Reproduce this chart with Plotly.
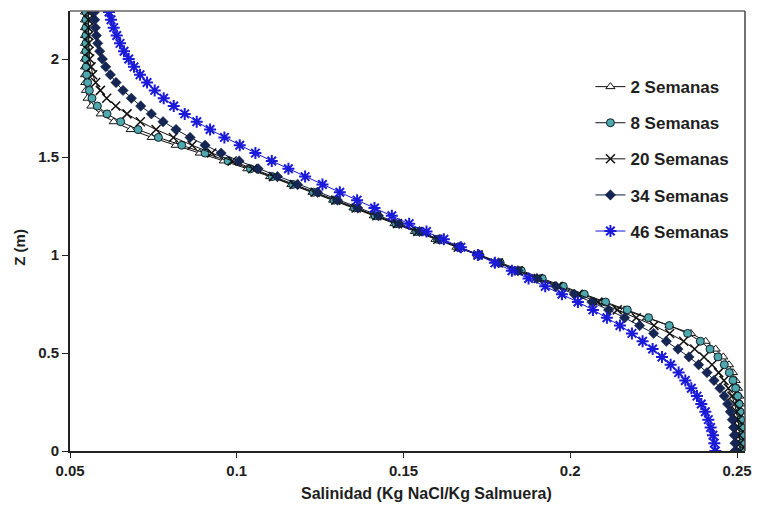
import plotly.graph_objects as go

z = [0.00, 0.04, 0.08, 0.12, 0.16, 0.20, 0.24, 0.28, 0.32, 0.36,
     0.40, 0.44, 0.48, 0.52, 0.56, 0.60, 0.64, 0.68, 0.72, 0.76,
     0.80, 0.84, 0.88, 0.92, 0.96, 1.00, 1.04, 1.08, 1.12, 1.16,
     1.20, 1.24, 1.28, 1.32, 1.36, 1.40, 1.44, 1.48, 1.52, 1.56,
     1.60, 1.64, 1.68, 1.72, 1.76, 1.80, 1.84, 1.88, 1.92, 1.96,
     2.00, 2.04, 2.08, 2.12, 2.16, 2.20, 2.24]

sal_2 = [0.2516, 0.2516, 0.2516, 0.2516, 0.2515, 0.2513, 0.2511, 0.2507, 0.2503, 0.2496,
         0.2488, 0.2476, 0.2459, 0.2436, 0.2406, 0.2362, 0.2298, 0.2230, 0.2162, 0.2097,
         0.2034, 0.1972, 0.1909, 0.1847, 0.1784, 0.1722, 0.1659, 0.1596, 0.1534, 0.1473,
         0.1411, 0.1350, 0.1289, 0.1227, 0.1164, 0.1100, 0.1032, 0.0961, 0.0889, 0.0817,
         0.0745, 0.0682, 0.0631, 0.0592, 0.0564, 0.0553, 0.0548, 0.0546, 0.0545, 0.0545,
         0.0545, 0.0545, 0.0545, 0.0545, 0.0545, 0.0545, 0.0545]

sal_8 = [0.2514, 0.2514, 0.2514, 0.2513, 0.2511, 0.2509, 0.2506, 0.2502, 0.2496, 0.2488,
         0.2477, 0.2462, 0.2443, 0.2419, 0.2390, 0.2352, 0.2297, 0.2235, 0.2171, 0.2106,
         0.2042, 0.1979, 0.1916, 0.1853, 0.1790, 0.1728, 0.1665, 0.1602, 0.1539, 0.1477,
         0.1415, 0.1353, 0.1292, 0.1230, 0.1168, 0.1106, 0.1041, 0.0974, 0.0905, 0.0835,
         0.0765, 0.0704, 0.0652, 0.0611, 0.0582, 0.0566, 0.0558, 0.0553, 0.0550, 0.0549,
         0.0548, 0.0548, 0.0548, 0.0548, 0.0548, 0.0548, 0.0548]

sal_20 = [0.2510, 0.2509, 0.2508, 0.2506, 0.2503, 0.2499, 0.2493, 0.2485, 0.2474, 0.2461,
          0.2445, 0.2425, 0.2401, 0.2373, 0.2340, 0.2298, 0.2251, 0.2198, 0.2141, 0.2083,
          0.2024, 0.1964, 0.1904, 0.1844, 0.1784, 0.1724, 0.1664, 0.1603, 0.1543, 0.1482,
          0.1420, 0.1358, 0.1297, 0.1235, 0.1172, 0.1110, 0.1048, 0.0986, 0.0925, 0.0866,
          0.0810, 0.0758, 0.0711, 0.0671, 0.0637, 0.0610, 0.0591, 0.0577, 0.0568, 0.0563,
          0.0559, 0.0557, 0.0556, 0.0556, 0.0555, 0.0555, 0.0555]

sal_34 = [0.2494, 0.2494, 0.2492, 0.2490, 0.2486, 0.2480, 0.2472, 0.2462, 0.2449, 0.2431,
          0.2410, 0.2385, 0.2356, 0.2323, 0.2288, 0.2250, 0.2208, 0.2163, 0.2115, 0.2065,
          0.2012, 0.1957, 0.1900, 0.1843, 0.1785, 0.1727, 0.1668, 0.1608, 0.1548, 0.1487,
          0.1425, 0.1363, 0.1302, 0.1242, 0.1182, 0.1122, 0.1064, 0.1007, 0.0953, 0.0905,
          0.0860, 0.0818, 0.0779, 0.0744, 0.0712, 0.0684, 0.0659, 0.0638, 0.0621, 0.0607,
          0.0597, 0.0589, 0.0583, 0.0579, 0.0576, 0.0574, 0.0573]

sal_46 = [0.2435, 0.2432, 0.2428, 0.2421, 0.2414, 0.2405, 0.2393, 0.2380, 0.2363, 0.2345,
          0.2325, 0.2301, 0.2275, 0.2247, 0.2217, 0.2185, 0.2149, 0.2110, 0.2068, 0.2023,
          0.1975, 0.1925, 0.1875, 0.1825, 0.1774, 0.1723, 0.1672, 0.1621, 0.1569, 0.1517,
          0.1465, 0.1413, 0.1361, 0.1309, 0.1257, 0.1205, 0.1155, 0.1105, 0.1056, 0.1009,
          0.0963, 0.0920, 0.0880, 0.0844, 0.0811, 0.0781, 0.0754, 0.0731, 0.0710, 0.0692,
          0.0676, 0.0662, 0.0650, 0.0640, 0.0631, 0.0623, 0.0617]

names = ["2 Semanas", "8 Semanas", "20 Semanas", "34 Semanas", "46 Semanas"]
x_ticks = [0.05, 0.1, 0.15, 0.2, 0.25]
x_tick_text = ["0.05", "0.1", "0.15", "0.2", "0.25"]
y_ticks = [0, 0.5, 1, 1.5, 2]
y_tick_text = ["0", "0.5", "1", "1.5", "2"]

styles = [
    dict(line=dict(color="#111111", width=1),
         marker=dict(symbol="triangle-up", size=8, color="white", line=dict(color="#111111", width=1))),
    dict(line=dict(color="#111111", width=1),
         marker=dict(symbol="circle", size=8, color="#4fa8ad", line=dict(color="#10202a", width=1))),
    dict(line=dict(color="#111111", width=1),
         marker=dict(symbol="x-thin-open", size=9, color="#111111", line=dict(color="#111111", width=1.5))),
    dict(line=dict(color="#0d1a3a", width=1),
         marker=dict(symbol="diamond", size=8, color="#152654", line=dict(color="#0d1a3a", width=0.5))),
    dict(line=dict(color="#1a1ad8", width=1),
         marker=dict(symbol="asterisk-open", size=10, color="#1a1ad8", line=dict(color="#1a1ad8", width=2))),
]

fig = go.Figure()
for name, sal, st in zip(names, [sal_2, sal_8, sal_20, sal_34, sal_46], styles):
    fig.add_trace(go.Scatter(x=sal, y=z, mode="lines+markers", name=name,
                             legendgroup=name, line=st["line"], marker=st["marker"]))

font_family = "Liberation Sans, Arial, sans-serif"
txt = "#1e1e1e"
fig.update_layout(
    width=763, height=506,
    margin=dict(l=70, r=11, t=11, b=55),
    paper_bgcolor="white", plot_bgcolor="white",
    font=dict(family=font_family, color=txt),
    showlegend=True,
    legend=dict(x=0.771, y=0.868, xanchor="left", yanchor="top",
                bgcolor="rgba(0,0,0,0)", borderwidth=0,
                font=dict(size=17, family=font_family, color=txt, weight="bold"),
                tracegroupgap=11, itemwidth=30),
    xaxis=dict(range=[0.05, 0.2524], tickvals=x_ticks, ticktext=x_tick_text,
               showgrid=False, zeroline=False, showline=True, linecolor="#222222", linewidth=2,
               ticks="outside", ticklen=5, tickcolor="#222222",
               tickfont=dict(size=15, weight="bold", color=txt)),
    yaxis=dict(range=[0, 2.245], tickvals=y_ticks, ticktext=y_tick_text,
               showgrid=False, zeroline=False, showline=True, linecolor="#222222", linewidth=2,
               ticks="outside", ticklen=6, tickcolor="#222222",
               tickfont=dict(size=15, weight="bold", color=txt)),
    annotations=[
        dict(text="Salinidad (Kg NaCl/Kg Salmuera)", xref="paper", yref="paper",
             x=0.528, y=0, xanchor="center", yanchor="middle", yshift=-42, showarrow=False,
             font=dict(size=16, weight="bold", color=txt, family=font_family)),
        dict(text="Z (m)", xref="paper", yref="paper", textangle=-90,
             x=-0.076, y=0.4636, xanchor="center", yanchor="middle", showarrow=False,
             font=dict(size=15, weight="bold", color=txt, family=font_family)),
    ],
)
fig.add_shape(type="line", xref="paper", yref="paper", x0=0, x1=1, y0=1, y1=1,
              line=dict(color="#666666", width=1.5))
fig.add_shape(type="line", xref="paper", yref="paper", x0=1, x1=1, y0=0, y1=1,
              line=dict(color="#444444", width=1.5))

fig.write_html("out.html")
